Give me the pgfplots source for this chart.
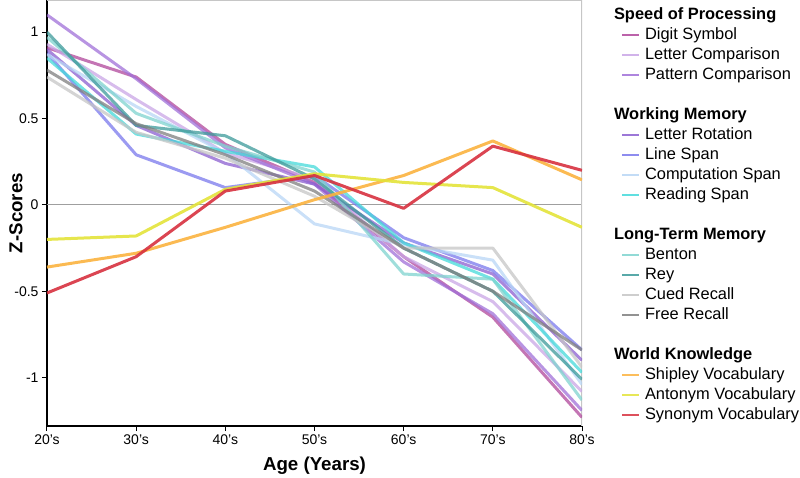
\documentclass[border=0pt]{standalone}
\usepackage{fontspec}
\setmainfont{Liberation Sans}
\usepackage{pgfplots}
\pgfplotsset{compat=1.18}
\definecolor{cdigit}{HTML}{B0479B}
\definecolor{clettercomp}{HTML}{C9A6E6}
\definecolor{cpattern}{HTML}{A070D8}
\definecolor{cletterrot}{HTML}{8B5FD0}
\definecolor{clinespan}{HTML}{7A78EC}
\definecolor{ccompspan}{HTML}{B8D6F5}
\definecolor{creadspan}{HTML}{44D9DA}
\definecolor{cbenton}{HTML}{7FD3CF}
\definecolor{crey}{HTML}{3C9A9A}
\definecolor{ccued}{HTML}{C6C6C6}
\definecolor{cfree}{HTML}{7F7F7F}
\definecolor{cshipley}{HTML}{FBB33F}
\definecolor{cantonym}{HTML}{E3E33A}
\definecolor{csynonym}{HTML}{D7313F}
\begin{document}
\begin{tikzpicture}
\useasboundingbox (-47pt,-51pt) rectangle (753pt,426pt);
\begin{axis}[
  scale only axis, width=535pt, height=426pt,
  xmin=0, xmax=6, ymin=-1.28, ymax=1.186,
  axis x line*=bottom, axis y line*=left,
  axis line style={-, black, line width=1.2pt},
  xtick={0,1,2,3,4,5,6},
  xticklabels={20’s,30’s,40’s,50’s,60’s,70’s,80’s},
  ytick={-1,-0.5,0,0.5,1},
  yticklabels={-1,-0.5,0,0.5,1},
  tick align=outside, major tick length=5pt,
  tick style={black, line width=1pt},
  ticklabel style={font=\fontsize{14}{16}\selectfont},
  xlabel={Age (Years)}, ylabel={Z-Scores},
  label style={font=\fontsize{18.7}{21}\selectfont\bfseries},
  xlabel style={at={(axis description cs:0.5,-0.094)}, anchor=center},
  ylabel style={at={(axis description cs:-0.058,0.5)}, anchor=center},
  every axis plot/.append style={line width=3pt, opacity=0.75, line join=round},
  legend cell align=left,
  legend image code/.code={\draw[#1, line width=2pt, opacity=0.85] (0pt,0pt) -- (17pt,0pt);},
  legend style={at={(rel axis cs:1.073,0.981)}, anchor=north west, draw=none, fill=none,
    inner sep=0pt, outer sep=0pt, row sep=6pt, column sep=5pt,
    font=\fontsize{16.4}{18}\selectfont,
    nodes={inner sep=0pt, text height=11.5pt, text depth=2.5pt}},
]
\draw[gray!75, line width=1pt] (axis cs:0,0) -- (axis cs:6,0);
\draw[gray!45, line width=1.2pt] (rel axis cs:0,1) -- (rel axis cs:1,1) -- (rel axis cs:1,0);

\addlegendimage{empty legend}\addlegendentry{\hspace*{-31pt}\textbf{Speed of Processing}}
\addplot[cdigit] coordinates {(0,0.91) (1,0.74) (2,0.35) (3,0.13) (4,-0.30) (5,-0.65) (6,-1.23)};
\addlegendentry{Digit Symbol}
\addplot[clettercomp] coordinates {(0,0.93) (1,0.61) (2,0.30) (3,0.15) (4,-0.30) (5,-0.56) (6,-1.08)};
\addlegendentry{Letter Comparison}
\addplot[cpattern] coordinates {(0,1.10) (1,0.73) (2,0.33) (3,0.12) (4,-0.33) (5,-0.63) (6,-1.19)};
\addlegendentry{Pattern Comparison}
\addlegendimage{empty legend}\addlegendentry{}

\addlegendimage{empty legend}\addlegendentry{\hspace*{-31pt}\textbf{Working Memory}}
\addplot[cletterrot] coordinates {(0,0.90) (1,0.46) (2,0.24) (3,0.12) (4,-0.22) (5,-0.40) (6,-0.90)};
\addlegendentry{Letter Rotation}
\addplot[clinespan] coordinates {(0,0.88) (1,0.29) (2,0.10) (3,0.17) (4,-0.19) (5,-0.38) (6,-0.84)};
\addlegendentry{Line Span}
\addplot[ccompspan] coordinates {(0,0.87) (1,0.57) (2,0.30) (3,-0.11) (4,-0.23) (5,-0.32) (6,-1.04)};
\addlegendentry{Computation Span}
\addplot[creadspan] coordinates {(0,0.85) (1,0.41) (2,0.31) (3,0.22) (4,-0.22) (5,-0.43) (6,-0.97)};
\addlegendentry{Reading Span}
\addlegendimage{empty legend}\addlegendentry{}

\addlegendimage{empty legend}\addlegendentry{\hspace*{-31pt}\textbf{Long-Term Memory}}
\addplot[cbenton] coordinates {(0,0.97) (1,0.53) (2,0.34) (3,0.19) (4,-0.40) (5,-0.43) (6,-1.13)};
\addlegendentry{Benton}
\addplot[crey] coordinates {(0,1.00) (1,0.46) (2,0.40) (3,0.15) (4,-0.25) (5,-0.50) (6,-1.01)};
\addlegendentry{Rey}
\addplot[ccued] coordinates {(0,0.74) (1,0.42) (2,0.27) (3,0.05) (4,-0.25) (5,-0.25) (6,-0.94)};
\addlegendentry{Cued Recall}
\addplot[cfree] coordinates {(0,0.78) (1,0.47) (2,0.29) (3,0.08) (4,-0.25) (5,-0.50) (6,-0.84)};
\addlegendentry{Free Recall}
\addlegendimage{empty legend}\addlegendentry{}

\addlegendimage{empty legend}\addlegendentry{\hspace*{-31pt}\textbf{World Knowledge}}
\addplot[cshipley, opacity=0.9] coordinates {(0,-0.36) (1,-0.28) (2,-0.13) (3,0.03) (4,0.17) (5,0.37) (6,0.145)};
\addlegendentry{Shipley Vocabulary}
\addplot[cantonym, opacity=0.9] coordinates {(0,-0.20) (1,-0.18) (2,0.09) (3,0.18) (4,0.13) (5,0.10) (6,-0.13)};
\addlegendentry{Antonym Vocabulary}
\addplot[csynonym, opacity=0.9] coordinates {(0,-0.51) (1,-0.30) (2,0.08) (3,0.17) (4,-0.02) (5,0.34) (6,0.20)};
\addlegendentry{Synonym Vocabulary}
\end{axis}
\end{tikzpicture}
\end{document}
